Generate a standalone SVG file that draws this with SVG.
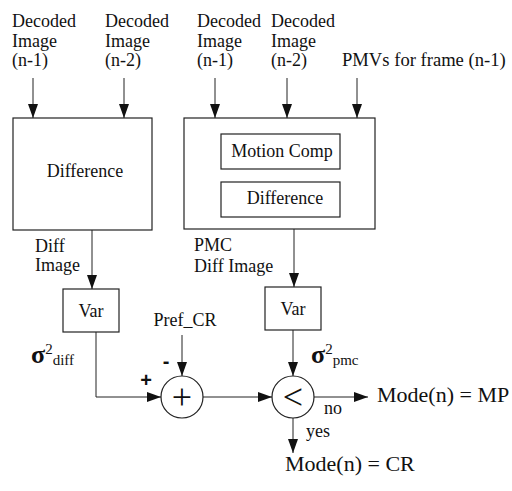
<svg xmlns="http://www.w3.org/2000/svg" width="512" height="491" viewBox="0 0 512 491">
  <style>
    text { font-family: "Liberation Serif", "Times New Roman", serif; fill: #111; }
    .t { font-size: 18px; }
    .big { font-size: 22px; }
    .sig { font-size: 26px; font-weight: bold; }
    .sub { font-size: 15px; }
    .sgn { font-family: "Liberation Sans", Arial, sans-serif; font-weight: bold; font-size: 20px; }
    .op { font-size: 36px; }
    .box { fill: #fff; stroke: #222; stroke-width: 1.2; }
    .ln { fill: none; stroke: #222; stroke-width: 1; }
  </style>
  <defs>
    <marker id="arr" markerUnits="userSpaceOnUse" markerWidth="14" markerHeight="12" refX="14" refY="6" orient="auto">
      <path d="M0,1 L14,6 L0,11 Z" fill="#111"/>
    </marker>
  </defs>

  <!-- input labels -->
  <g id="inputs">
    <text class="t" x="12" y="27">Decoded</text>
    <text class="t" x="12" y="47">Image</text>
    <text class="t" x="12" y="66">(n-1)</text>
    <text class="t" x="105" y="27">Decoded</text>
    <text class="t" x="105" y="47">Image</text>
    <text class="t" x="105" y="66">(n-2)</text>
    <text class="t" x="197" y="27">Decoded</text>
    <text class="t" x="197" y="47">Image</text>
    <text class="t" x="197" y="66">(n-1)</text>
    <text class="t" x="271" y="27">Decoded</text>
    <text class="t" x="271" y="47">Image</text>
    <text class="t" x="271" y="66">(n-2)</text>
    <text class="t" x="342" y="66" style="font-size:18.6px">PMVs for frame (n-1)</text>
  </g>

  <!-- plain difference block -->
  <g id="diff-block">
    <rect class="box" x="13" y="118" width="139" height="112"/>
    <text class="t" x="85" y="177" text-anchor="middle">Difference</text>
  </g>

  <!-- motion-compensated difference block -->
  <g id="pmc-block">
    <rect class="box" x="184" y="118" width="191" height="111"/>
    <rect class="box" x="221" y="134" width="119" height="35"/>
    <text class="t" x="282" y="157" text-anchor="middle">Motion Comp</text>
    <rect class="box" x="221" y="182" width="119" height="35"/>
    <text class="t" x="285" y="204" text-anchor="middle">Difference</text>
  </g>

  <g id="diff-image-label">
    <text class="t" x="35" y="252">Diff</text>
    <text class="t" x="35" y="271">Image</text>
  </g>
  <g id="pmc-image-label">
    <text class="t" x="194" y="251">PMC</text>
    <text class="t" x="194" y="272">Diff Image</text>
  </g>

  <!-- variance blocks -->
  <g id="var-diff">
    <rect class="box" x="63" y="289" width="56" height="43"/>
    <text class="t" x="91" y="317" text-anchor="middle">Var</text>
  </g>
  <g id="var-pmc">
    <rect class="box" x="265" y="287" width="56" height="43"/>
    <text class="t" x="293" y="315" text-anchor="middle">Var</text>
  </g>

  <g id="sigma-diff">
    <text x="31" y="363"><tspan class="sig">σ</tspan><tspan class="sub" dy="-9">2</tspan><tspan class="sub" dy="11">diff</tspan></text>
  </g>
  <g id="sigma-pmc">
    <text x="311" y="363"><tspan class="sig">σ</tspan><tspan class="sub" dy="-9">2</tspan><tspan class="sub" dy="11">pmc</tspan></text>
  </g>

  <g id="pref-cr">
    <text class="t" x="185" y="326" text-anchor="middle">Pref_CR</text>
  </g>

  <!-- adder -->
  <g id="adder">
    <circle class="box" cx="182" cy="397" r="21"/>
    <text class="op" x="182" y="409" text-anchor="middle">+</text>
    <text class="sgn" x="146" y="387" text-anchor="middle">+</text>
    <text class="sgn" x="166" y="368" text-anchor="middle">-</text>
  </g>

  <!-- comparator -->
  <g id="compare">
    <circle class="box" cx="293" cy="397" r="21"/>
    <text class="op" x="293" y="409" text-anchor="middle">&lt;</text>
  </g>

  <g id="out-mp">
    <text class="big" x="377" y="402">Mode(n) = MP</text>
    <text class="t" x="324" y="414">no</text>
  </g>
  <g id="out-cr">
    <text class="big" x="285" y="471">Mode(n) = CR</text>
    <text class="t" x="306" y="437">yes</text>
  </g>

  <!-- connectors -->
  <g id="connectors">
    <line class="ln" x1="33" y1="78" x2="33" y2="118" marker-end="url(#arr)"/>
    <line class="ln" x1="124" y1="78" x2="124" y2="118" marker-end="url(#arr)"/>
    <line class="ln" x1="215" y1="78" x2="215" y2="118" marker-end="url(#arr)"/>
    <line class="ln" x1="287" y1="78" x2="287" y2="118" marker-end="url(#arr)"/>
    <line class="ln" x1="357" y1="78" x2="357" y2="118" marker-end="url(#arr)"/>
    <line class="ln" x1="92" y1="230" x2="92" y2="289" marker-end="url(#arr)"/>
    <line class="ln" x1="294" y1="229" x2="294" y2="287" marker-end="url(#arr)"/>
    <path class="ln" d="M96,332 V397 H161" marker-end="url(#arr)"/>
    <line class="ln" x1="182" y1="335" x2="182" y2="376" marker-end="url(#arr)"/>
    <line class="ln" x1="203" y1="397" x2="272" y2="397" marker-end="url(#arr)"/>
    <line class="ln" x1="293" y1="330" x2="293" y2="376" marker-end="url(#arr)"/>
    <line class="ln" x1="314" y1="397" x2="368" y2="397" marker-end="url(#arr)"/>
    <line class="ln" x1="293" y1="418" x2="293" y2="453" marker-end="url(#arr)"/>
  </g>
</svg>
